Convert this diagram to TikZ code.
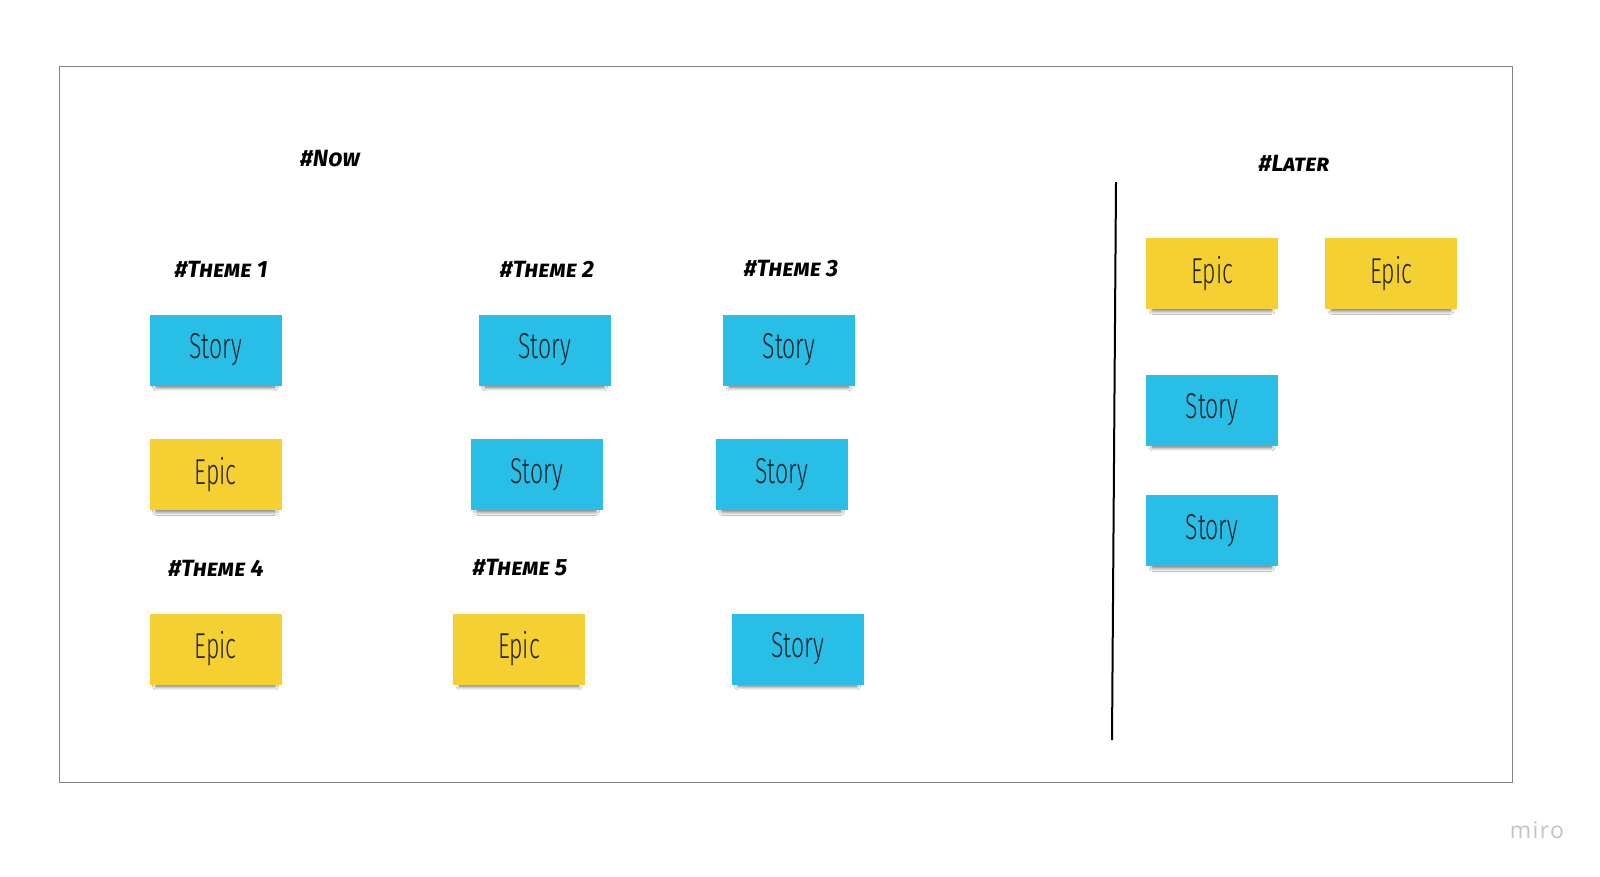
\documentclass[tikz,border=0pt]{standalone}
\usepackage{fontspec}
\usetikzlibrary{shadows.blur}
\newfontfamily\hdfont[RawFeature=+smcp]{Fira Sans}
\newfontfamily\stfont[UprightFont=* Light, FakeStretch=0.64]{Fira Sans}
\newfontfamily\mirofont[LetterSpace=6]{Open Sans}
\definecolor{stickyblue}{RGB}{40,190,230}
\definecolor{stickyyellow}{RGB}{244,208,50}
\definecolor{framegray}{RGB}{130,130,130}
\definecolor{mirogray}{RGB}{195,195,205}
\definecolor{inkdark}{RGB}{35,35,40}
\tikzset{
  sticky/.style={rectangle, minimum width=132pt, minimum height=71pt, inner sep=0pt,
    text=inkdark, font=\stfont\fontsize{36}{40}\selectfont,
    blur shadow={shadow xshift=0pt, shadow yshift=-6pt, shadow scale=0.9,
      shadow blur steps=8, shadow blur radius=4pt, shadow opacity=60}},
  storybox/.style={sticky, fill=stickyblue},
  epicbox/.style={sticky, fill=stickyyellow},
  heading/.style={font=\hdfont\bfseries\itshape\fontsize{23.5}{26}\selectfont, text=black, inner sep=0pt},
}
\begin{document}
\begin{tikzpicture}[x=1pt,y=-1pt]
\useasboundingbox (0,0) rectangle (1600,876);
\fill[white] (0,0) rectangle (1600,876);
\draw[framegray, line width=1pt] (59,66) rectangle (1512,782);
\coordinate (vt) at (1116,182);
\coordinate (vb) at (1112,740);
\draw[black, line width=2pt] (vt) -- (vb);

\node[heading] (now) at (330,159) {\#Now};
\node[heading] (later) at (1294,163) {\#Later};
\node[heading] (t1) at (221,269) {\#Theme 1};
\node[heading] (t2) at (547,269) {\#Theme 2};
\node[heading] (t3) at (791,269) {\#Theme 3};
\node[heading] (t4) at (216,568) {\#Theme 4};
\node[heading] (t5) at (520,568) {\#Theme 5};

\node[storybox] (s11) at (215.5,350) {Story};
\node[storybox] (s21) at (544.5,350) {Story};
\node[storybox] (s31) at (789,350) {Story};
\node[epicbox]  (e12) at (215.5,474.5) {Epic};
\node[storybox] (s22) at (536.5,474.5) {Story};
\node[storybox] (s32) at (781.5,474.5) {Story};
\node[epicbox]  (e4) at (215.5,649) {Epic};
\node[epicbox]  (e5) at (519,649) {Epic};
\node[storybox] (s5) at (797.5,649) {Story};

\node[epicbox]  (le1) at (1212,273.5) {Epic};
\node[epicbox]  (le2) at (1391,273.5) {Epic};
\node[storybox] (ls1) at (1212,410) {Story};
\node[storybox] (ls2) at (1212,530.5) {Story};

\node[font=\mirofont\fontsize{23}{26}\selectfont, text=mirogray, inner sep=0pt] (miro) at (1537,830) {miro};
\end{tikzpicture}
\end{document}
